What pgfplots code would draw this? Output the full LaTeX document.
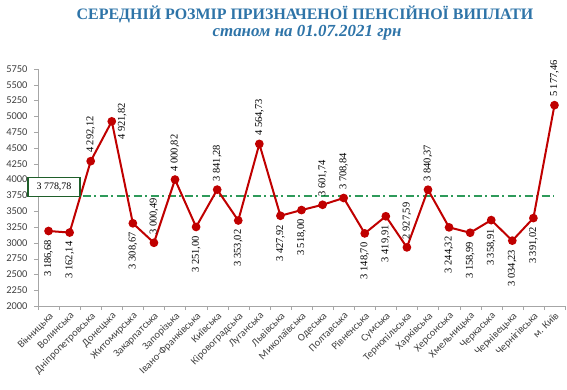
\documentclass[border=0pt]{standalone}
\usepackage{pgfplots}
\pgfplotsset{compat=1.18}
\usepackage{fontspec}
\setmainfont{Liberation Serif}
\newfontfamily\calfont{Carlito}
\definecolor{ln}{HTML}{C00000}
\definecolor{ttl}{HTML}{2E74A8}
\definecolor{meanc}{HTML}{2E9A5A}
\definecolor{boxc}{HTML}{1F5F2A}
\definecolor{tk}{HTML}{404040}
\begin{document}
\begin{tikzpicture}[x=1bp,y=1bp]
\useasboundingbox (0,0) rectangle (567,389);
\node[font=\fontsize{16}{18}\selectfont\bfseries, text=ttl] at (305,375) {СЕРЕДНІЙ РОЗМІР ПРИЗНАЧЕНОЇ ПЕНСІЙНОЇ ВИПЛАТИ};
\node[font=\fontsize{17}{19}\selectfont\bfseries\itshape, text=ttl] at (307,356) {станом на 01.07.2021 грн};
\begin{axis}[at={(38bp,83bp)}, anchor=south west, scale only axis, width=527bp, height=237bp,
  xmin=-0.5, xmax=24.5, ymin=2000, ymax=5750,
  axis x line=bottom, axis y line=left,
  axis line style={draw=gray!70, -},
  clip=false,
  ytick={2000,2250,...,5750},
  xtick={0,...,24},
  xticklabels={Вінницька, Волинська, Дніпропетровська, Донецька, Житомирська, Закарпатська, Запорізька, Івано-Франківська, Київська, Кіровоградська, Луганська, Львівська, Миколаївська, Одеська, Полтавська, Рівненська, Сумська, Тернопільська, Харківська, Херсонська, Хмельницька, Черкаська, Чернівецька, Чернігівська, м. Київ},
  minor xtick={-0.5,0.5,...,24.5},
  tick align=outside,
  major tick length=4bp, minor tick length=4bp,
  major x tick style={draw=none},
  minor x tick style={draw=gray!70},
  major y tick style={draw=gray!70},
  /pgf/number format/assume math mode=true,
  /pgf/number format/1000 sep={},
  yticklabel style={font=\calfont\fontsize{10.5}{12}\selectfont, text=tk, xshift=-3bp},
  xticklabel style={font=\calfont\fontsize{10.5}{12}\selectfont, text=tk, rotate=45, anchor=north east, inner sep=1bp},
]
\addplot[draw=meanc, line width=1.8bp, dash pattern=on 8bp off 3.5bp on 2bp off 3.5bp] coordinates {(0,3740) (24,3740)};
\addplot[draw=ln, line width=2bp, mark=*, mark size=3.3bp, mark options={fill=ln, draw=ln}] coordinates {
(0,3186.68) (1,3162.14) (2,4292.12) (3,4921.82) (4,3308.67) (5,3000.49) (6,4000.82) (7,3251.00) (8,3841.28) (9,3353.02) (10,4564.73) (11,3427.92) (12,3518.00) (13,3601.74) (14,3708.84) (15,3148.70) (16,3419.91) (17,2927.59) (18,3840.37) (19,3244.32) (20,3158.99) (21,3358.91) (22,3034.23) (23,3391.02) (24,5177.46)};
% labels below
\addplot[draw=none, nodes near coords, point meta=explicit symbolic,
  every node near coord/.append style={rotate=90, anchor=east, font=\fontsize{10.5}{12}\selectfont, inner xsep=9bp, inner ysep=0pt}] coordinates {
(0,3186.68)[3 186,68] (1,3162.14)[3 162,14] (4,3308.67)[3 308,67] (7,3251.00)[3 251,00] (9,3353.02)[3 353,02] (11,3427.92)[3 427,92] (12,3518.00)[3 518,00] (15,3148.70)[3 148,70] (16,3419.91)[3 419,91] (19,3244.32)[3 244,32] (20,3158.99)[3 158,99] (21,3358.91)[3 358,91] (22,3034.23)[3 034,23] (23,3391.02)[3 391,02]};
% labels above
\addplot[draw=none, nodes near coords, point meta=explicit symbolic,
  every node near coord/.append style={rotate=90, anchor=west, font=\fontsize{10.5}{12}\selectfont, inner xsep=8bp, inner ysep=0pt}] coordinates {
(2,4292.12)[4 292,12] (5,3000.49)[3 000,49] (6,4000.82)[4 000,82] (8,3841.28)[3 841,28] (10,4564.73)[4 564,73] (13,3601.74)[3 601,74] (14,3708.84)[3 708,84] (17,2927.59)[2 927,59] (18,3840.37)[3 840,37] (24,5177.46)[5 177,46]};
% label right
\addplot[draw=none, nodes near coords, point meta=explicit symbolic,
  every node near coord/.append style={rotate=90, anchor=north, font=\fontsize{10.5}{12}\selectfont, inner ysep=6bp, inner xsep=0pt}] coordinates {
(3,4921.82)[4 921,82]};
\node[draw=boxc, line width=1.3bp, fill=white, minimum width=52bp, minimum height=19bp, inner sep=1bp, font=\fontsize{10}{12}\selectfont] at (axis cs:0.26,3880) {3 778,78};
\end{axis}
\end{tikzpicture}
\end{document}
